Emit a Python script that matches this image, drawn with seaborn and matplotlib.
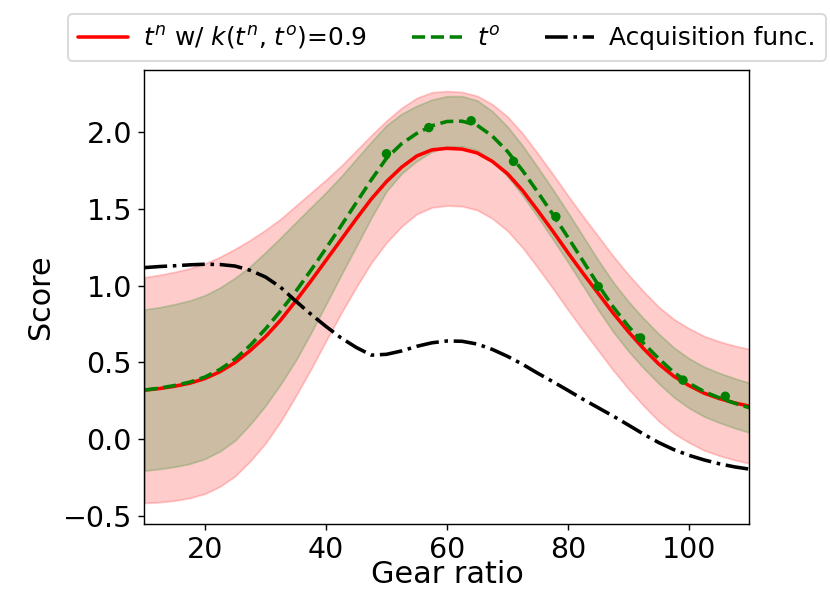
import numpy as np
import pandas as pd
import seaborn as sns
import matplotlib
matplotlib.use("Agg")
import matplotlib.pyplot as plt

# values (x step 2.5)
gear = [10, 12.5, 15, 17.5, 20, 22.5, 25, 27.5, 30, 32.5, 35, 37.5, 40, 42.5,
        45, 47.5, 50, 52.5, 55, 57.5, 60, 62.5, 65, 67.5, 70, 72.5, 75, 77.5,
        80, 82.5, 85, 87.5, 90, 92.5, 95, 97.5, 100, 102.5, 105, 107.5, 110]
tn_mean = [0.32, 0.33, 0.345, 0.365, 0.395, 0.44, 0.50, 0.578, 0.668, 0.775,
           0.90, 1.03, 1.165, 1.30, 1.435, 1.565, 1.678, 1.772, 1.845, 1.885,
           1.895, 1.89, 1.865, 1.81, 1.73, 1.62, 1.49, 1.355, 1.215, 1.08,
           0.95, 0.82, 0.70, 0.59, 0.49, 0.41, 0.35, 0.30, 0.265, 0.237, 0.215]
tn_std = [0.735, 0.74, 0.745, 0.748, 0.75, 0.748, 0.74, 0.72, 0.695, 0.66,
          0.62, 0.575, 0.525, 0.48, 0.445, 0.415, 0.397, 0.386, 0.378, 0.375,
          0.373, 0.372, 0.372, 0.372, 0.372, 0.372, 0.372, 0.372, 0.372, 0.372,
          0.372, 0.372, 0.372, 0.372, 0.372, 0.372, 0.372, 0.372, 0.372, 0.372, 0.372]
to_mean = [0.32, 0.333, 0.35, 0.372, 0.405, 0.455, 0.522, 0.612, 0.718, 0.835,
           0.962, 1.10, 1.243, 1.39, 1.54, 1.69, 1.83, 1.925, 1.992, 2.042,
           2.07, 2.072, 2.045, 1.975, 1.875, 1.75, 1.61, 1.465, 1.315, 1.16,
           1.005, 0.86, 0.735, 0.625, 0.525, 0.435, 0.365, 0.31, 0.27, 0.235, 0.205]
to_std = [0.525, 0.527, 0.53, 0.532, 0.533, 0.533, 0.53, 0.515, 0.50, 0.478,
          0.45, 0.41, 0.365, 0.322, 0.285, 0.248, 0.215, 0.195, 0.18, 0.17,
          0.165, 0.163, 0.162, 0.162, 0.162, 0.162, 0.162, 0.162, 0.162, 0.162,
          0.162, 0.162, 0.162, 0.162, 0.162, 0.162, 0.162, 0.162, 0.162, 0.162, 0.162]
acq = [1.118, 1.125, 1.13, 1.136, 1.14, 1.138, 1.128, 1.10, 1.057, 0.99,
       0.90, 0.815, 0.735, 0.66, 0.598, 0.548, 0.553, 0.575, 0.605, 0.628,
       0.64, 0.638, 0.62, 0.585, 0.54, 0.488, 0.43, 0.375, 0.318, 0.26,
       0.205, 0.15, 0.092, 0.033, -0.022, -0.068, -0.105, -0.135, -0.16, -0.18, -0.195]

obs_x = [50, 57, 64, 71, 78, 85, 92, 99, 106]
obs_y = [1.86, 2.03, 2.075, 1.81, 1.45, 0.995, 0.66, 0.385, 0.28]

df = pd.DataFrame({"gear": gear, "tn": tn_mean, "tn_sd": tn_std,
                   "to": to_mean, "to_sd": to_std, "acq": acq})
obs = pd.DataFrame({"gear": obs_x, "score": obs_y})

sns.set_style("ticks")
plt.rcParams["font.family"] = ["DejaVu Sans"]
for key in ["axes.edgecolor", "xtick.color", "ytick.color", "text.color", "axes.labelcolor"]:
    plt.rcParams[key] = "black"

fig = plt.figure(figsize=(830 / 128, 613 / 128), dpi=128)
ax = fig.add_axes([0.174, 0.146, 0.729, 0.739])

ax.fill_between(df.gear, df.tn - df.tn_sd, df.tn + df.tn_sd, color="red", alpha=0.2)
ax.fill_between(df.gear, df.to - df.to_sd, df.to + df.to_sd, color="green", alpha=0.2)

sns.lineplot(data=df, x="gear", y="tn", color="red", lw=2, ax=ax,
             label=r"$t^n$ w/ $k(t^n$, $t^o)$=0.9")
sns.lineplot(data=df, x="gear", y="to", color="green", lw=2, linestyle="--", ax=ax,
             label=r"$t^o$")
sns.scatterplot(data=obs, x="gear", y="score", color="green", s=28,
                edgecolor="none", ax=ax, zorder=4)
sns.lineplot(data=df, x="gear", y="acq", color="black", lw=2, linestyle="-.", ax=ax,
             label="Acquisition func.")

ax.set_xlim(10, 110)
ax.set_xticks([20, 40, 60, 80, 100])
ax.set_yticks([-0.5, 0.0, 0.5, 1.0, 1.5, 2.0])
ax.tick_params(labelsize=16, direction="out", length=3.5)
ax.set_xlabel("Gear ratio", fontsize=17, labelpad=-2)
ax.set_ylabel("Score", fontsize=17)

ax.legend(loc="lower center", bbox_to_anchor=(0.5, 1.021), borderaxespad=0,
          ncol=3, fontsize=14, columnspacing=1.8, handletextpad=0.6,
          handlelength=2.0)

fig.savefig("out.png", dpi=128)
